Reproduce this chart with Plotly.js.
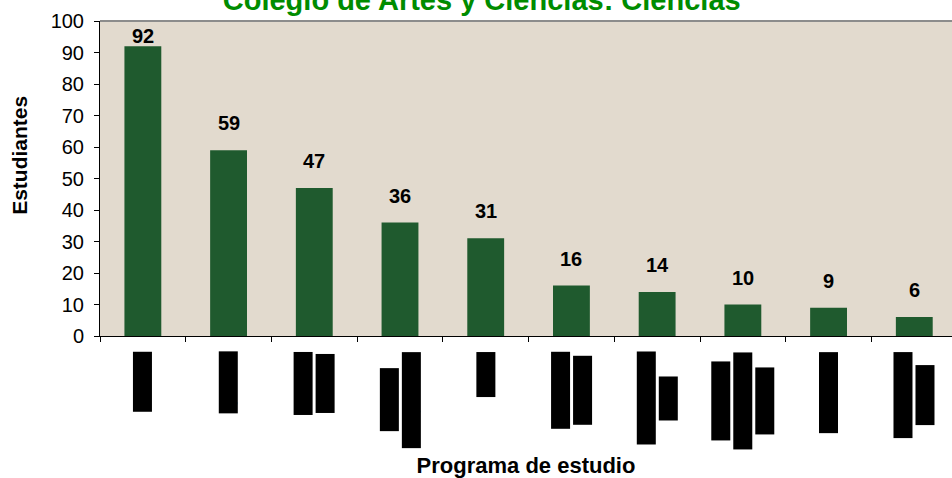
<!DOCTYPE html>
<html>
<head>
<meta charset="utf-8">
<script src="https://cdn.plot.ly/plotly-3.0.1.min.js"></script>
<style>html,body{margin:0;padding:0;background:#fff;}#chart{width:952px;height:478px;}</style>
</head>
<body>
<div id="chart"></div>
<script>
// ---- data ----
const categories = [
  "Biología",
  "Química",
  "Ciencias<br>Marinas",
  "Ciencias<br>Computación",
  "Física",
  "Educación<br>Científica",
  "Matemáticas<br>Puras",
  "Tecnología<br>Microbiología<br>Industrial",
  "Enfermería",
  "Ciencias de<br>la Tierra"
];
const students = [92, 59, 47, 36, 31, 16, 14, 10, 9, 6];
const yTickVals = [0, 10, 20, 30, 40, 50, 60, 70, 80, 90, 100];
const yTickText = ["0", "10", "20", "30", "40", "50", "60", "70", "80", "90", "100"];
const chartTitle = "Colegio de Artes y Ciencias: Ciencias";
const xTitle = "Programa de estudio";
const yTitle = "Estudiantes";

// ---- layout constants ----
const FAM = 'Arial, "Liberation Sans", sans-serif';
const W = 952, H = 478;
const M = {l: 100, r: 0, t: 21, b: 142};
const plotH = H - M.t - M.b;
const yMax = 100;

const annotations = [];

// category labels drawn as rotated text blocks
const ctx = document.createElement('canvas').getContext('2d');
ctx.font = '16px "Liberation Sans", Arial, sans-serif';
categories.forEach(cat => {
  const lines = cat.split('<br>');
  const widths = lines.map(s => ctx.measureText(s).width + 2);
  const maxW = Math.max.apply(null, widths);
  const centerPix = 16 + maxW / 2;
  lines.forEach((ln, i) => {
    annotations.push({
      xref: 'x', x: cat, yref: 'paper', y: 0,
      xanchor: 'center', yanchor: 'middle',
      xshift: (i - (lines.length - 1) / 2) * 22,
      yshift: -centerPix,
      text: ln, textangle: -90, showarrow: false,
      font: {size: 16, color: '#000000', family: FAM},
      bgcolor: '#000000', borderpad: 1, borderwidth: 0
    });
  });
});

// value labels above bars
students.forEach((v, i) => {
  const dist = (yMax - v) / yMax * plotH;
  const shift = Math.min(14, dist - 28);
  annotations.push({
    xref: 'x', x: categories[i], yref: 'y', y: v,
    xanchor: 'center', yanchor: 'bottom', yshift: shift,
    text: String(v), showarrow: false,
    font: {size: 20, color: '#000000', family: FAM, weight: 'bold'}
  });
});

// y-axis title
annotations.push({
  xref: 'paper', x: 0, xshift: -80, xanchor: 'center',
  yref: 'paper', y: 0.572, yanchor: 'middle',
  text: yTitle, textangle: -90, showarrow: false,
  font: {size: 21, color: '#000000', family: FAM, weight: 'bold'}
});

const trace = {
  type: 'bar',
  x: categories,
  y: students,
  marker: {color: '#1f5a2e', line: {width: 0}},
  hoverinfo: 'x+y'
};

const layout = {
  width: W, height: H,
  margin: M,
  paper_bgcolor: '#ffffff',
  plot_bgcolor: '#e2dace',
  showlegend: false,
  bargap: 0.57,
  title: {
    text: chartTitle,
    font: {size: 29, color: '#008c00', family: FAM, weight: 'bold'},
    xref: 'container', x: 0.506, xanchor: 'center',
    yref: 'container', y: 1, yanchor: 'middle'
  },
  xaxis: {
    type: 'category',
    range: [-0.5, 9.44],
    showticklabels: false,
    ticks: 'outside', tickson: 'boundaries', ticklen: 5, tickcolor: '#000',
    showline: true, linecolor: '#000', linewidth: 1,
    showgrid: false, zeroline: false,
    automargin: false,
    title: {text: xTitle, font: {size: 22, color: '#000', family: FAM, weight: 'bold'}, standoff: 121}
  },
  yaxis: {
    range: [0, yMax],
    tickmode: 'array', tickvals: yTickVals, ticktext: yTickText,
    ticks: 'outside', ticklen: 5, tickcolor: '#000',
    tickfont: {size: 20, color: '#000', family: FAM},
    ticklabelstandoff: 6,
    showline: true, linecolor: '#000', linewidth: 1,
    showgrid: false, zeroline: false,
    automargin: false
  },
  shapes: [{
    type: 'line', xref: 'paper', yref: 'paper',
    x0: 0, x1: 1, y0: 1, y1: 1,
    line: {color: '#8c8c8c', width: 2}
  }],
  annotations: annotations
};

Plotly.newPlot('chart', [trace], layout, {displayModeBar: false, staticPlot: true});
</script>
</body>
</html>
